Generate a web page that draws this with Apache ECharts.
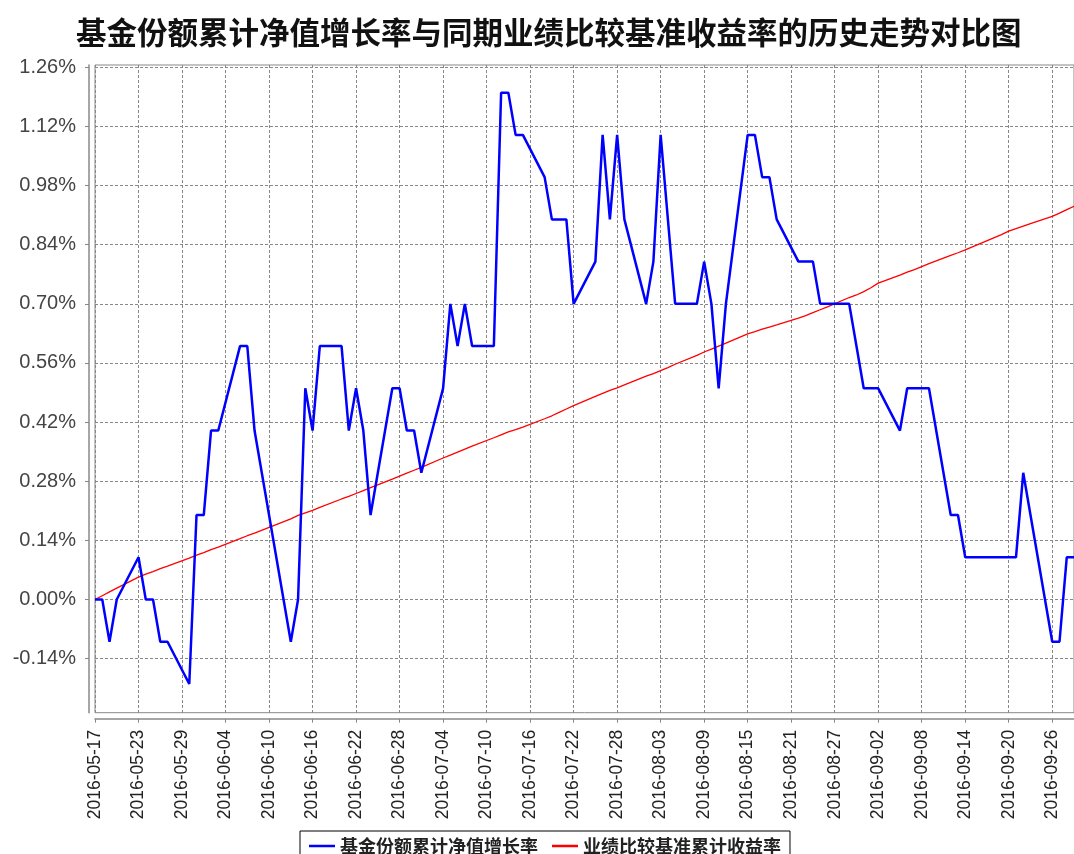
<!DOCTYPE html>
<html>
<head>
<meta charset="utf-8">
<script src="https://cdn.jsdelivr.net/npm/echarts@6/dist/echarts.min.js"></script>
<style>
html,body{margin:0;padding:0;background:#fff;}
#chart{width:1074px;height:854px;}
</style>
</head>
<body>
<div id="chart"></div>
<script>
const chartTitle = '基金份额累计净值增长率与同期业绩比较基准收益率的历史走势对比图';
const seriesNames = ['基金份额累计净值增长率', '业绩比较基准累计收益率'];

const dates = [
  '2016-05-17','2016-05-18','2016-05-19','2016-05-20','2016-05-23','2016-05-24','2016-05-25','2016-05-26','2016-05-27',
  '2016-05-30','2016-05-31','2016-06-01','2016-06-02','2016-06-03','2016-06-06','2016-06-07','2016-06-08',
  '2016-06-13','2016-06-14','2016-06-15','2016-06-16','2016-06-17','2016-06-20','2016-06-21','2016-06-22','2016-06-23','2016-06-24',
  '2016-06-27','2016-06-28','2016-06-29','2016-06-30','2016-07-01','2016-07-04','2016-07-05','2016-07-06','2016-07-07','2016-07-08',
  '2016-07-11','2016-07-12','2016-07-13','2016-07-14','2016-07-15','2016-07-18','2016-07-19','2016-07-20','2016-07-21','2016-07-22',
  '2016-07-25','2016-07-26','2016-07-27','2016-07-28','2016-07-29','2016-08-01','2016-08-02','2016-08-03','2016-08-04','2016-08-05',
  '2016-08-08','2016-08-09','2016-08-10','2016-08-11','2016-08-12','2016-08-15','2016-08-16','2016-08-17','2016-08-18','2016-08-19',
  '2016-08-22','2016-08-23','2016-08-24','2016-08-25','2016-08-26','2016-08-29','2016-08-30','2016-08-31','2016-09-01','2016-09-02',
  '2016-09-05','2016-09-06','2016-09-07','2016-09-08','2016-09-09','2016-09-12','2016-09-13','2016-09-14',
  '2016-09-19','2016-09-20','2016-09-21','2016-09-22','2016-09-23','2016-09-26','2016-09-27','2016-09-28','2016-09-29'
];

const fundReturn = [
  0.00, 0.00, -0.10, 0.00, 0.10, 0.00, 0.00, -0.10, -0.10,
  -0.20, 0.20, 0.20, 0.40, 0.40, 0.60, 0.60, 0.40,
  -0.10, 0.00, 0.50, 0.40, 0.60, 0.60, 0.40, 0.50, 0.40, 0.20,
  0.50, 0.50, 0.40, 0.40, 0.30, 0.50, 0.70, 0.60, 0.70, 0.60,
  0.60, 1.20, 1.20, 1.10, 1.10, 1.00, 0.90, 0.90, 0.90, 0.70,
  0.80, 1.10, 0.90, 1.10, 0.90, 0.70, 0.80, 1.10, 0.90, 0.70,
  0.70, 0.80, 0.70, 0.50, 0.70, 1.10, 1.10, 1.00, 1.00, 0.90,
  0.80, 0.80, 0.80, 0.70, 0.70, 0.70, 0.60, 0.50, 0.50, 0.50,
  0.40, 0.50, 0.50, 0.50, 0.50, 0.20, 0.20, 0.10,
  0.10, 0.10, 0.10, 0.30, 0.20, -0.10, -0.10, 0.10, 0.10
];

const benchmarkReturn = [
  0.000, 0.009, 0.018, 0.027, 0.053, 0.060, 0.066, 0.073, 0.079,
  0.098, 0.105, 0.111, 0.118, 0.124, 0.144, 0.151, 0.157,
  0.191, 0.199, 0.205, 0.211, 0.218, 0.238, 0.244, 0.251, 0.258, 0.265,
  0.285, 0.292, 0.299, 0.306, 0.313, 0.335, 0.342, 0.349, 0.356, 0.363,
  0.383, 0.390, 0.397, 0.402, 0.408, 0.428, 0.435, 0.443, 0.451, 0.459,
  0.481, 0.488, 0.495, 0.501, 0.508, 0.529, 0.535, 0.542, 0.549, 0.557,
  0.578, 0.586, 0.593, 0.600, 0.607, 0.629, 0.634, 0.640, 0.645, 0.650,
  0.666, 0.672, 0.679, 0.686, 0.693, 0.715, 0.721, 0.729, 0.738, 0.749,
  0.768, 0.775, 0.781, 0.788, 0.795, 0.815, 0.821, 0.828,
  0.864, 0.872, 0.878, 0.884, 0.890, 0.907, 0.915, 0.923, 0.931
];

const xTickLabels = [
  '2016-05-17','2016-05-23','2016-05-29','2016-06-04','2016-06-10','2016-06-16','2016-06-22','2016-06-28',
  '2016-07-04','2016-07-10','2016-07-16','2016-07-22','2016-07-28','2016-08-03','2016-08-09','2016-08-15',
  '2016-08-21','2016-08-27','2016-09-02','2016-09-08','2016-09-14','2016-09-20','2016-09-26'
];
const yTickValues = [-0.14, 0.00, 0.14, 0.28, 0.42, 0.56, 0.70, 0.84, 0.98, 1.12, 1.26];
const xRange = ['2016-05-17', '2016-09-29'];
const yRange = [-0.268, 1.2655];

function ts(s) { const p = s.split('-'); return Date.UTC(+p[0], +p[1] - 1, +p[2]); }
function fmt(t) {
  const d = new Date(t);
  return d.getUTCFullYear() + '-' + String(d.getUTCMonth() + 1).padStart(2, '0') + '-' + String(d.getUTCDate()).padStart(2, '0');
}

const xTickValues = xTickLabels.map(ts);
const fundData = dates.map((d, i) => [ts(d), fundReturn[i]]);
const benchData = dates.map((d, i) => [ts(d), benchmarkReturn[i]]);

const chart = echarts.init(document.getElementById('chart'), null, { renderer: 'canvas' });
chart.setOption({
  animation: false,
  backgroundColor: '#ffffff',
  title: {
    text: chartTitle,
    left: 71,
    top: 12,
    textStyle: { fontFamily: 'Noto Sans CJK SC', fontWeight: 'bold', fontSize: 30.5, color: '#111' }
  },
  legend: {
    left: 300,
    top: 831,
    data: seriesNames,
    icon: 'rect',
    itemWidth: 26,
    itemHeight: 2.5,
    itemGap: 14,
    padding: [6, 9],
    borderColor: '#000',
    borderWidth: 1,
    textStyle: { fontFamily: 'Noto Sans CJK SC', fontWeight: 'bold', fontSize: 18, color: '#222' }
  },
  grid: {
    left: 95, right: -1, top: 65, bottom: 141.3,
    show: true, borderColor: '#888', borderWidth: 1, backgroundColor: '#fff'
  },
  xAxis: {
    type: 'value',
    min: ts(xRange[0]),
    max: ts(xRange[1]),
    offset: 6,
    axisLine: { show: true, onZero: false, lineStyle: { color: '#888', width: 1.5 } },
    axisTick: { show: true, length: 4, customValues: xTickValues, lineStyle: { color: '#888' } },
    axisLabel: {
      customValues: xTickValues,
      rotate: 90,
      margin: 11,
      formatter: v => fmt(v),
      fontFamily: 'Liberation Sans, Arial, sans-serif',
      fontSize: 17.5,
      color: '#222'
    },
    splitLine: { show: true, lineStyle: { type: [3, 2], color: '#888', width: 1 } }
  },
  yAxis: {
    type: 'value',
    min: yRange[0],
    max: yRange[1],
    offset: 6,
    axisLine: { show: true, onZero: false, lineStyle: { color: '#888', width: 1.5 } },
    axisTick: { show: true, length: 4, customValues: yTickValues, lineStyle: { color: '#888' } },
    axisLabel: {
      customValues: yTickValues,
      margin: 13,
      formatter: v => v.toFixed(2) + '%',
      fontFamily: 'Liberation Sans, Arial, sans-serif',
      fontSize: 20,
      color: '#444'
    },
    splitLine: { show: true, lineStyle: { type: [3, 2], color: '#888', width: 1 } }
  },
  series: [
    {
      name: seriesNames[0], type: 'line', data: fundData, symbol: 'none',
      itemStyle: { color: '#0000ff' },
      lineStyle: { color: '#0000ff', width: 2.5 }, z: 3
    },
    {
      name: seriesNames[1], type: 'line', data: benchData, symbol: 'none',
      itemStyle: { color: '#ff0000' },
      lineStyle: { color: '#ff0000', width: 1.3 }, z: 2
    }
  ]
});
</script>
</body>
</html>
